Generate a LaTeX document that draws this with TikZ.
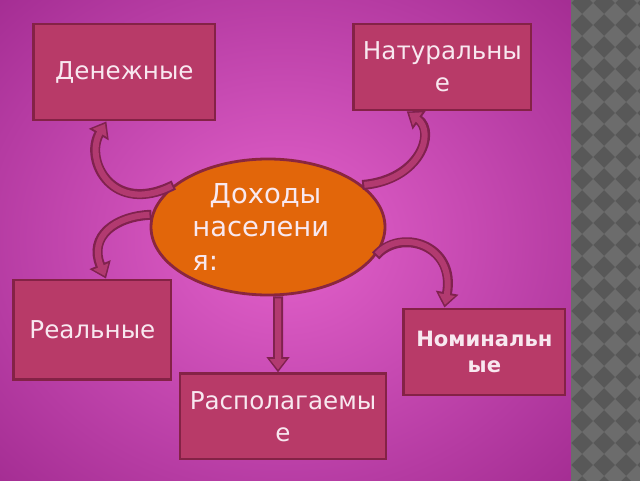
\documentclass[tikz,border=0pt]{standalone}
\usepackage{fontspec}
\setmainfont{DejaVu Sans}
\usepackage{xcolor}
\usetikzlibrary{shapes.geometric, arrows.meta}

\definecolor{bgpink}{RGB}{228,98,204}
\definecolor{bgpurple}{RGB}{134,20,120}
\definecolor{stripdark}{RGB}{88,88,88}
\definecolor{striplight}{RGB}{108,108,108}
\definecolor{boxfill}{RGB}{184,58,104}
\definecolor{boxline}{RGB}{132,34,70}
\definecolor{ovalfill}{RGB}{226,102,10}
\definecolor{ovalline}{RGB}{138,38,62}
\definecolor{arrfill}{RGB}{178,58,112}
\definecolor{arrline}{RGB}{128,34,78}
\definecolor{labeltext}{RGB}{248,232,240}

\pgfdeclareradialshading{bgglow}{\pgfpoint{0bp}{0bp}}{color(0bp)=(bgpink); color(52bp)=(bgpurple); color(72bp)=(bgpurple)}

\begin{document}
\begin{tikzpicture}[
    catbox/.style={rectangle, draw=boxline, line width=0.07cm, fill=boxfill, text=labeltext, align=center, inner sep=0pt, font=\fontsize{17.5}{23}\selectfont},
    incoval/.style={ellipse, draw=ovalline, line width=0.07cm, fill=ovalfill, minimum width=5.85cm, minimum height=3.4cm, inner sep=0pt},
    flowout/.style={draw=arrline, line width=0.25cm, -{Triangle[length=0.38cm,width=0.55cm]}},
    flowin/.style={draw=arrfill, line width=0.15cm, shorten <=0.05cm, shorten >=0.07cm, -{Triangle[length=0.26cm,width=0.39cm]}}
]
    \useasboundingbox (0,0) rectangle (16,12);
    % background and side strip
    \shade[shading=bgglow] (-0.1,-0.1) rectangle (14.275,12.1);
    \fill[stripdark] (14.275,-0.1) rectangle (16.1,12.1);
    \begin{scope}
        \clip (14.275,-0.1) rectangle (16.1,12.1);
        \foreach \i in {0,...,4}
            \foreach \j in {-1,...,22}
                \fill[striplight] ({14.275+\i*0.55},{\j*0.55+0.1}) ++(0.275,0) -- ++(-0.275,0.275) -- ++(-0.275,-0.275) -- ++(0.275,-0.275) -- cycle;
    \end{scope}

    \node[incoval] (inc) at (6.7,6.325) {};
    \node[text=labeltext, align=left, font=\fontsize{19.5}{23.5}\selectfont] (inctxt) at ([xshift=-0.18cm]inc.center) {\hspace*{0.43cm}Доходы\\населени\\я:};

    \node[catbox, minimum width=4.53cm, minimum height=2.4cm] (money) at (3.11,10.2) {Денежные};
    \node[catbox, minimum width=4.43cm, minimum height=2.15cm] (natural) at (11.06,10.325) {Натуральны\\е};
    \node[catbox, minimum width=3.93cm, minimum height=2.48cm] (real) at (2.31,3.76) {Реальные};
    \node[catbox, minimum width=5.15cm, minimum height=2.13cm] (dispos) at (7.075,1.59) {Располагаемы\\е};
    \node[catbox, minimum width=4.03cm, minimum height=2.15cm, font=\bfseries\fontsize{15}{18.5}\selectfont] (nominal) at (12.11,3.2) {Номинальн\\ые};

    % arrows
    \draw[flowout] (inc.156) .. controls (2.8,6.6) and (2.1,8.0) .. ([xshift=-0.45cm]money.south);
    \draw[flowin] (inc.156) .. controls (2.8,6.6) and (2.1,8.0) .. ([xshift=-0.45cm]money.south);
    \draw[flowout] (inc.24) .. controls (10.5,7.5) and (10.9,8.7) .. ([xshift=-0.89cm]natural.south);
    \draw[flowin] (inc.24) .. controls (10.5,7.5) and (10.9,8.7) .. ([xshift=-0.89cm]natural.south);
    \draw[flowout] (inc.174) .. controls (2.9,6.6) and (2.2,6.1) .. ([xshift=0.34cm]real.north);
    \draw[flowin] (inc.174) .. controls (2.9,6.6) and (2.2,6.1) .. ([xshift=0.34cm]real.north);
    \draw[flowout] (inc.-15) .. controls (10.0,6.3) and (11.4,5.9) .. ([xshift=-1.0cm]nominal.north);
    \draw[flowin] (inc.-15) .. controls (10.0,6.3) and (11.4,5.9) .. ([xshift=-1.0cm]nominal.north);
    \draw[flowout] ([xshift=0.25cm]inc.south) -- ([xshift=-0.125cm]dispos.north);
    \draw[flowin] ([xshift=0.25cm]inc.south) -- ([xshift=-0.125cm]dispos.north);
\end{tikzpicture}
\end{document}
